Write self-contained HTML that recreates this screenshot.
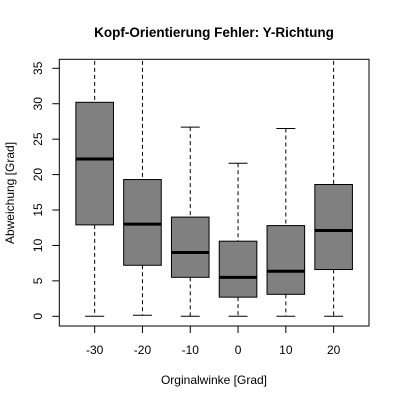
<!DOCTYPE html>
<html><head><meta charset="utf-8"><style>
body{margin:0;background:#fff}
svg text{font-family:"Liberation Sans",Arial,sans-serif;fill:#000}
</style></head><body>
<svg id="chart" width="400" height="400" xmlns="http://www.w3.org/2000/svg">
<rect width="400" height="400" fill="#fff"/>
<text x="214" y="37" text-anchor="middle" font-size="13.5" font-weight="bold">Kopf-Orientierung Fehler: Y-Richtung</text>
<text x="214" y="384" text-anchor="middle" font-size="12">Orginalwinke [Grad]</text>
<text x="0" y="0" transform="translate(14,193) rotate(-90)" text-anchor="middle" font-size="12">Abweichung [Grad]</text>
<g id="plot"></g>
</svg>
<script>
const categories=["-30","-20","-10","0","10","20"];
const mins=[0,0.15,0,0,0,0];
const q1s=[12.9,7.2,5.5,2.7,3.1,6.6];
const medians=[22.2,13.0,9.0,5.5,6.35,12.1];
const q3s=[30.2,19.3,14.0,10.6,12.8,18.6];
const maxs=[40,40,26.7,21.6,26.5,40];
const yTicks=[0,5,10,15,20,25,30,35];
const L=59.3,R=369,T=59.3,B=326;
const xMin=0.26,xMax=6.74,yMin=-1.37,yMax=36.27;
const xs=v=>L+(v-xMin)/(xMax-xMin)*(R-L);
const ys=v=>B-(v-yMin)/(yMax-yMin)*(B-T);
const ns="http://www.w3.org/2000/svg";
const g=document.getElementById('plot');
function mk(tag,attrs,parent){const e=document.createElementNS(ns,tag);for(const k in attrs)e.setAttribute(k,attrs[k]);(parent||g).appendChild(e);return e;}
const clip=mk('clipPath',{id:'pc'});mk('rect',{x:L,y:T,width:R-L,height:B-T},clip);
const hw=18.8,cw=9.5;
categories.forEach((c,i)=>{
  const x=xs(i+1);
  const bg=mk('g',{'clip-path':'url(#pc)'});
  
  
  mk('line',{x1:x,x2:x,y1:ys(maxs[i]),y2:ys(q3s[i]),stroke:'#000','stroke-dasharray':'4,3'},bg);
  mk('line',{x1:x,x2:x,y1:ys(q1s[i]),y2:ys(mins[i]),stroke:'#000','stroke-dasharray':'4,3'},bg);
  mk('line',{x1:x-cw,x2:x+cw,y1:ys(maxs[i]),y2:ys(maxs[i]),stroke:'#000'},bg);
  mk('line',{x1:x-cw,x2:x+cw,y1:ys(mins[i]),y2:ys(mins[i]),stroke:'#000'},bg);
  mk('rect',{x:x-hw,y:ys(q3s[i]),width:2*hw,height:ys(q1s[i])-ys(q3s[i]),fill:'#808080',stroke:'#000'},bg);
  mk('line',{x1:x-hw,x2:x+hw,y1:ys(medians[i]),y2:ys(medians[i]),stroke:'#000','stroke-width':3},bg);
  mk('line',{x1:x,x2:x,y1:B,y2:B+7,stroke:'#000'});
  const t=mk('text',{x:x,y:354,'text-anchor':'middle','font-size':'12'});t.textContent=c;
  
  
});
yTicks.forEach(v=>{
  const y=ys(v);
  mk('line',{x1:L-7,x2:L,y1:y,y2:y,stroke:'#000'});
  const t=mk('text',{x:0,y:0,transform:`translate(42,${y}) rotate(-90)`,'text-anchor':'middle','font-size':'12'});t.textContent=v;
  
  
});
const fr=mk('rect',{x:L,y:T,width:R-L,height:B-T,fill:'none',stroke:'#000'});


</script>
</body></html>
